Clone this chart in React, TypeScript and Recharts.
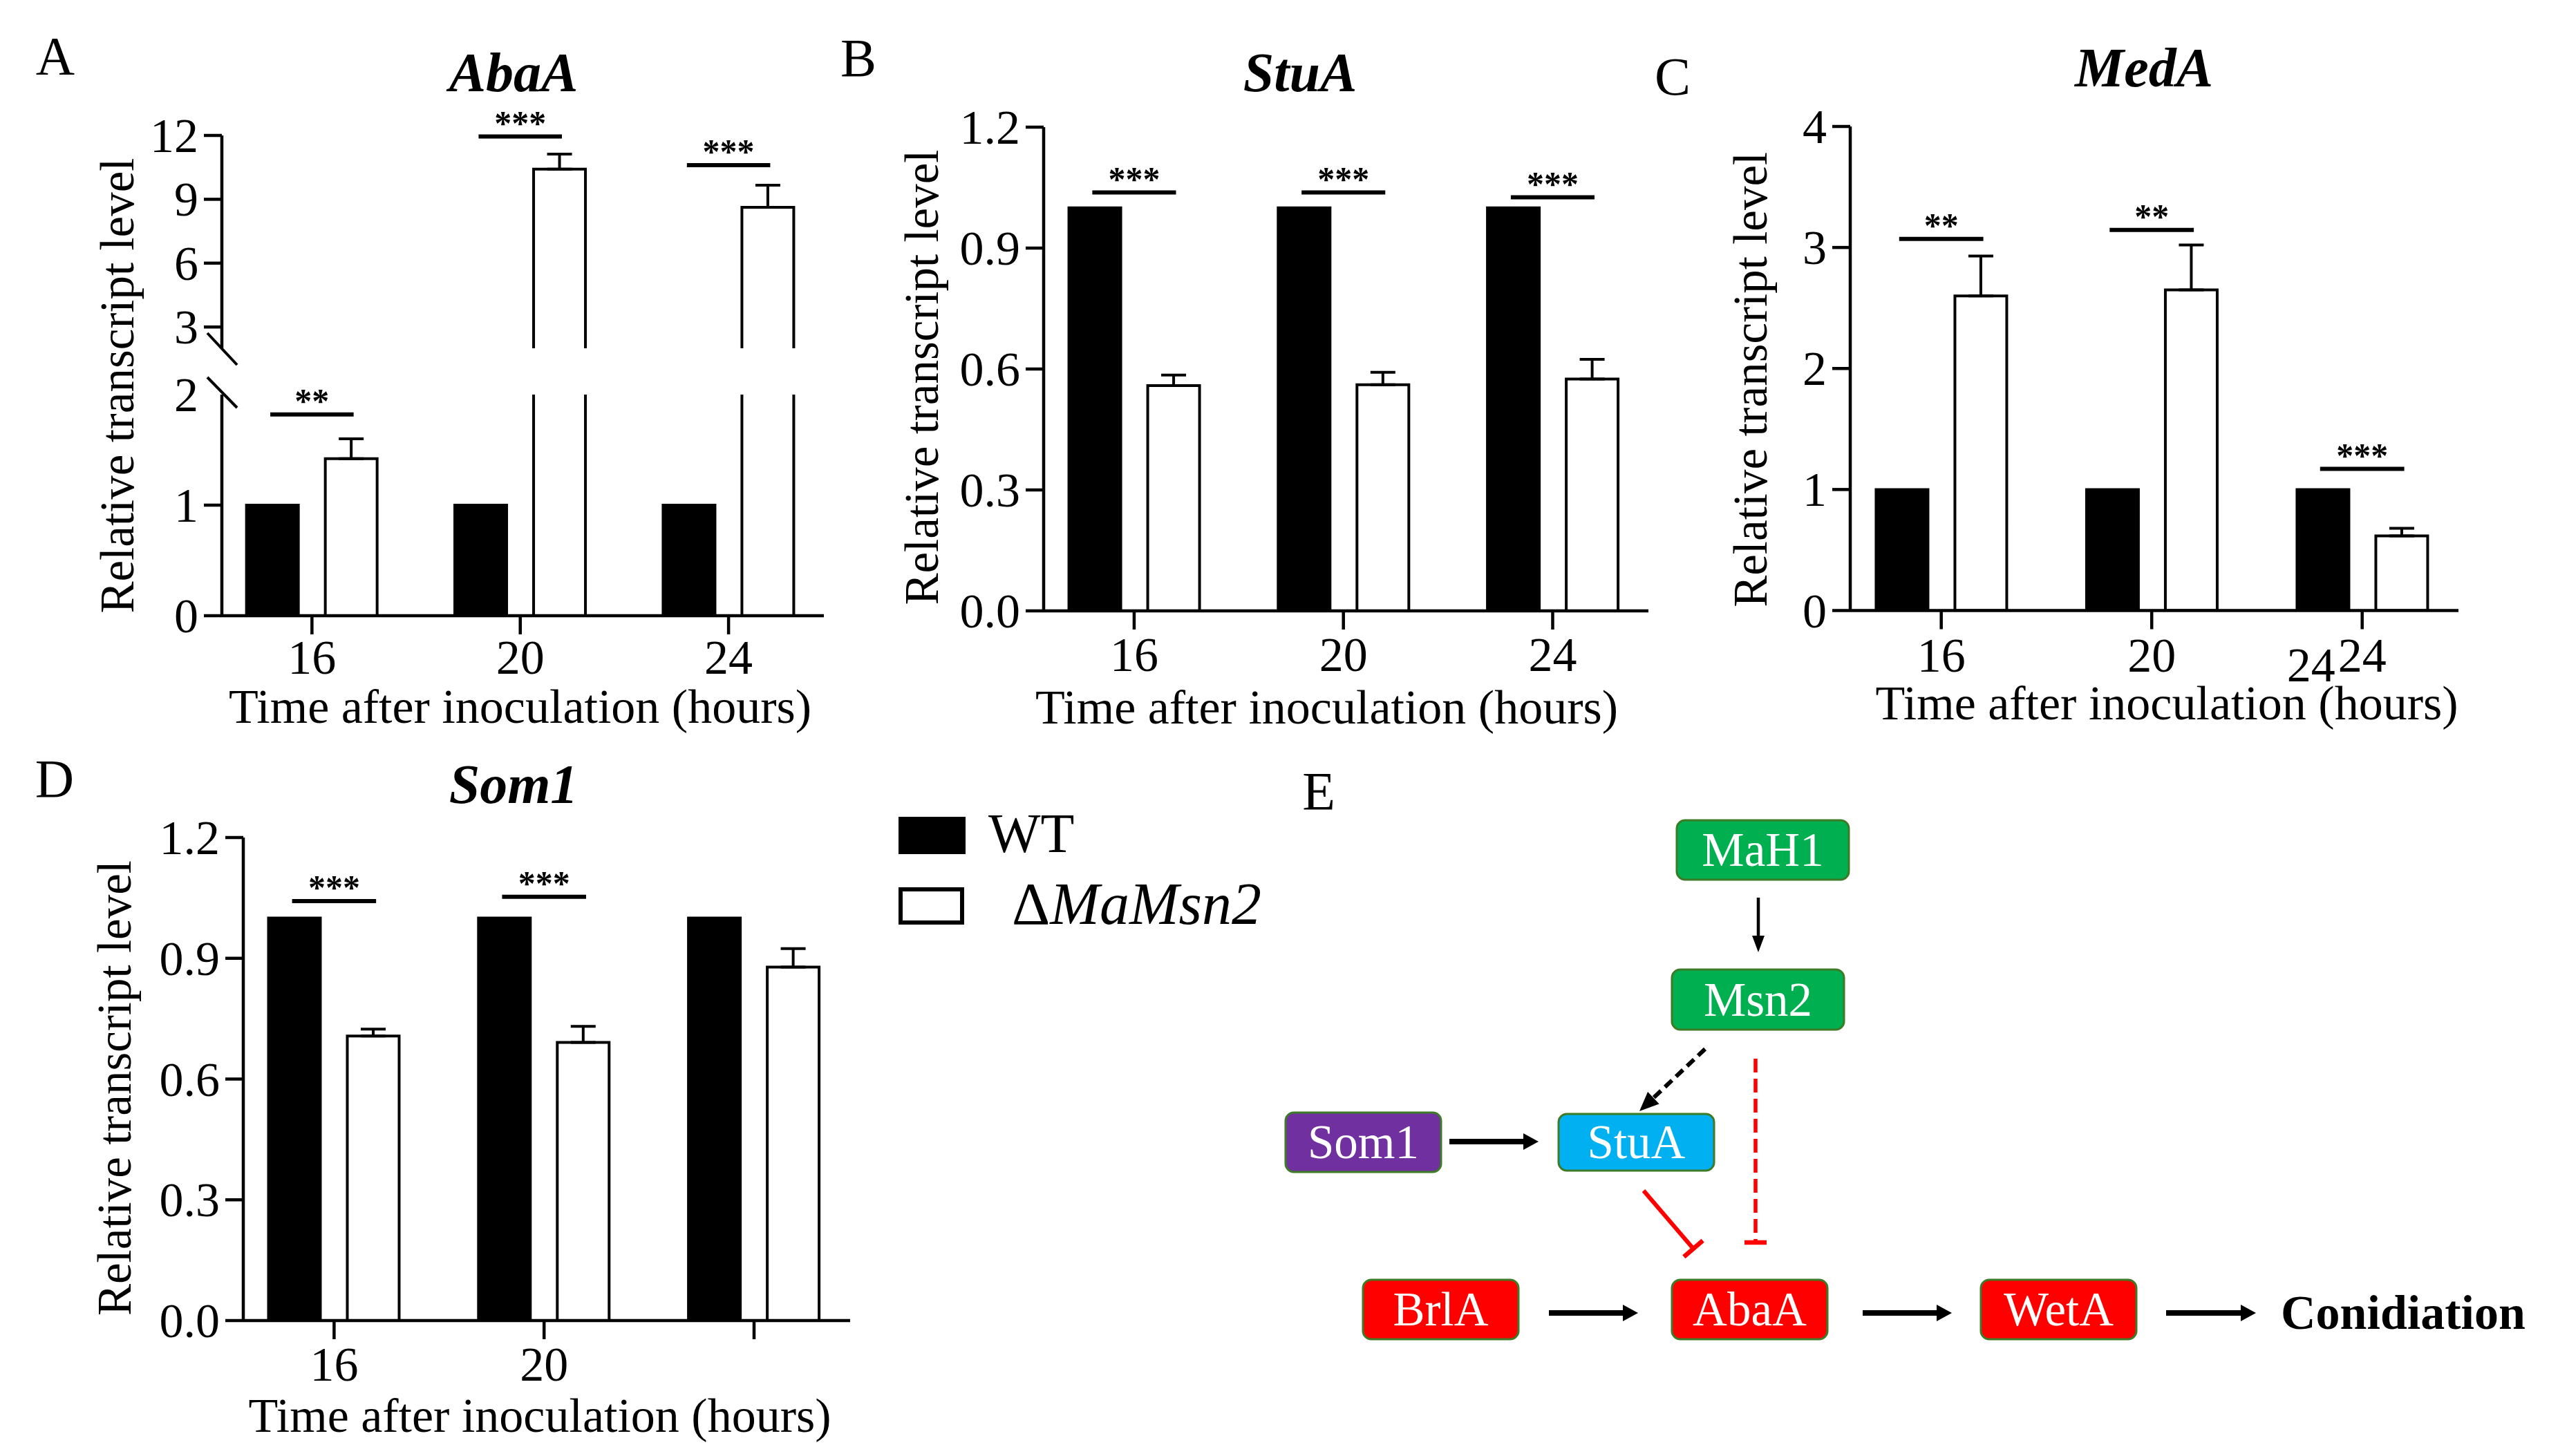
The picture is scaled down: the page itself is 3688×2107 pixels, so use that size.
import React from 'react';
import { BarChart, Bar, XAxis, YAxis, ErrorBar, ReferenceLine, Legend } from 'recharts';

const FONT = '"Liberation Serif", "Times New Roman", Times, serif';

// sampling times (hours after inoculation)
const times = [16, 20, 24];
const timeLabels = ['16', '20', '24'];
const som1TimeLabels = ['16', '20', ''];
const seriesNames = ['WT', 'ΔMaMsn2'];
const seriesFills = ['#000000', '#ffffff'];

// AbaA (broken axis)
const abaAWT = [1, 1, 1];
const abaAMsn2 = [1.42, 10.42, 8.62];
const abaAErr = [0.18, 0.7, 1.04];
const abaAStars = ['**', '***', '***'];
const abaAStarLevel = [1.82, 11.95, 10.6];
const abaALowTicks = [0, 1, 2];
const abaAHighTicks = [3, 6, 9, 12];

// StuA
const stuAWT = [1, 1, 1];
const stuAMsn2 = [0.559, 0.561, 0.575];
const stuAErr = [0.026, 0.031, 0.049];
const stuAStars = ['***', '***', '***'];
const stuAStarLevel = [1.038, 1.038, 1.026];

// MedA
const medAWT = [1, 1, 1];
const medAMsn2 = [2.6, 2.65, 0.617];
const medAErr = [0.33, 0.37, 0.063];
const medAStars = ['**', '**', '***'];
const medAStarLevel = [3.07, 3.145, 1.17];
const medATicks = [0, 1, 2, 3, 4];

// Som1
const som1WT = [1, 1, 1];
const som1Msn2 = [0.707, 0.691, 0.878];
const som1Err = [0.017, 0.04, 0.046];
const som1Stars = ['***', '***', ''];
const som1StarLevel = [1.042, 1.053, 0];
const ratioTicks = [0, 0.3, 0.6, 0.9, 1.2];

// panel E
const pathwayGenes = ['MaH1', 'Msn2', 'Som1', 'StuA', 'BrlA', 'AbaA', 'WetA'];
const pathwayColors = ['#00B050', '#00B050', '#7030A0', '#00B0F0', '#FF0000', '#FF0000', '#FF0000'];
const pathwayOutcome = 'Conidiation';

// layout
const X_DOMAIN: [number, number] = [14.27, 25.83];
const YW = 250;
const MR = 20;
const XH = 190;
const SIG_HALF = 0.8;
const AXIS_W = 4.5;

type Row = { time: number; wt: number | null; msn2: number | null; err: number[] | null };

const makeRows = (
  wt: number[], msn2: number[], err: number[],
  keepWt = true, barMin = -Infinity, errMin = -Infinity, errMax = Infinity
): Row[] =>
  times.map((t, i) => ({
    time: t,
    wt: keepWt ? wt[i] : null,
    msn2: msn2[i] >= barMin ? msn2[i] : null,
    err: msn2[i] >= errMin && msn2[i] <= errMax ? [0, err[i]] : null,
  }));

const makeSig = (stars: string[], levels: number[], lo = -Infinity, hi = Infinity) =>
  times
    .map((t, i) => ({ time: t, level: levels[i], stars: stars[i] }))
    .filter((s) => s.stars && s.level >= lo && s.level <= hi);

const fmt1 = (v: number) => v.toFixed(1);
const fmt0 = (v: number) => String(v);

type Plot = { left: number; right: number; top: number; bottom: number };

type GeneChartProps = {
  rows: Row[];
  plot: Plot;
  marginTop: number;
  rightPad?: number;
  yDomain: [number, number];
  yTicks: number[];
  yFormat: (v: number) => string;
  bareTicks?: number[];
  showX: boolean;
  xLabels?: string[];
  xTickDy?: number;
  xTitle?: { dx: number; dy: number };
  yTitle?: { dist: number; dy: number };
  sig: { time: number; level: number; stars: string }[];
  ghost?: { dx: number; dy: number };
  legend?: { left: number; top: number };
};

function LegendBox({ payload }: any) {
  const items =
    payload && payload.length
      ? payload.map((p: any, i: number) => ({ name: p.value, fill: p.color ?? seriesFills[i] }))
      : seriesNames.map((n, i) => ({ name: n, fill: seriesFills[i] }));
  return (
    <svg width={600} height={180} style={{ display: 'block' }}>
      {items.map((it: any, i: number) => {
        const name: string = it.name;
        const italic = name.startsWith('Δ');
        return (
          <g key={name}>
            {i === 0 ? (
              <rect x={10} y={12} width={97} height={54} fill={it.fill} />
            ) : (
              <rect x={13} y={117} width={89} height={48} fill={it.fill} stroke="#000" strokeWidth={6} />
            )}
            <text
              x={i === 0 ? 140 : 174}
              y={i === 0 ? 63 : 167}
              fontFamily={FONT}
              fontSize={i === 0 ? 80 : 86}
              fill="#000"
            >
              {italic ? (
                <>
                  <tspan>Δ</tspan>
                  <tspan fontStyle="italic">{name.slice(1)}</tspan>
                </>
              ) : (
                name
              )}
            </text>
          </g>
        );
      })}
    </svg>
  );
}

function GeneChart(props: GeneChartProps) {
  const {
    rows, plot, marginTop, rightPad = MR, yDomain, yTicks, yFormat, bareTicks = [], showX,
    xLabels = timeLabels, xTickDy = 62, xTitle, yTitle, sig, ghost, legend,
  } = props;
  const plotW = plot.right - plot.left;
  const plotH = plot.bottom - plot.top;
  const width = YW + plotW + rightPad;
  const height = marginTop + plotH + (showX ? XH : 10);

  const barShape = (key: 'wt' | 'msn2', fill: string) => (p: any) => {
    const v = p.payload ? p.payload[key] : null;
    if (v == null || !p.height) return null;
    const { x, y, width: w, height: h } = p;
    const openTop = v > yDomain[1];
    const openBottom = yDomain[0] > 0;
    let d = `M${x},${y + h} L${x},${y}`;
    d += openTop ? ` M${x + w},${y}` : ` L${x + w},${y}`;
    d += ` L${x + w},${y + h}`;
    if (!openBottom) d += ` L${x},${y + h}`;
    return (
      <g>
        <rect x={x} y={y} width={w} height={h} fill={fill} />
        <path d={d} fill="none" stroke="#000" strokeWidth={4} strokeLinejoin="miter" />
      </g>
    );
  };

  const yTick = (p: any) => {
    const v = p.payload?.value;
    return (
      <g>
        {!bareTicks.includes(v) && (
          <line x1={p.x - 26} y1={p.y} x2={p.x} y2={p.y} stroke="#000" strokeWidth={AXIS_W} />
        )}
        <text x={p.x - 34} y={p.y + 24} textAnchor="end" fontFamily={FONT} fontSize={70} fill="#000">
          {yFormat(v)}
        </text>
      </g>
    );
  };

  const xTick = (p: any) => {
    const v = p.payload?.value;
    const i = times.indexOf(v);
    const label = xLabels[i] ?? '';
    return (
      <g>
        <line x1={p.x} y1={p.y} x2={p.x} y2={p.y + 27} stroke="#000" strokeWidth={AXIS_W} />
        {label && (
          <text x={p.x} y={p.y + xTickDy + 24} textAnchor="middle" fontFamily={FONT} fontSize={70} fill="#000">
            {label}
          </text>
        )}
        {ghost && label && i === times.length - 1 && (
          <text
            x={p.x + ghost.dx}
            y={p.y + xTickDy + 24 + ghost.dy}
            textAnchor="middle"
            fontFamily={FONT}
            fontSize={70}
            fill="#000"
          >
            {label}
          </text>
        )}
      </g>
    );
  };

  const yTitleContent = () => {
    if (!yTitle) return null;
    const cx = YW - yTitle.dist + 23;
    const cy = marginTop + plotH / 2 + yTitle.dy;
    return (
      <text
        x={cx}
        y={cy}
        transform={`rotate(-90 ${cx} ${cy})`}
        textAnchor="middle"
        fontFamily={FONT}
        fontSize={69}
        fill="#000"
      >
        Relative transcript level
      </text>
    );
  };

  const xTitleContent = () => {
    if (!xTitle) return null;
    return (
      <text
        x={YW + plotW / 2 + xTitle.dx}
        y={marginTop + plotH + xTitle.dy + 18}
        textAnchor="middle"
        fontFamily={FONT}
        fontSize={70}
        fill="#000"
      >
        Time after inoculation (hours)
      </text>
    );
  };

  return (
    <div style={{ position: 'absolute', left: plot.left - YW, top: plot.top - marginTop }}>
      <BarChart
        width={width}
        height={height}
        data={rows}
        margin={{ top: marginTop, right: rightPad, bottom: showX ? 0 : 10, left: 0 }}
        barSize={75}
        barGap={39}
      >
        <XAxis
          dataKey="time"
          type="number"
          domain={X_DOMAIN}
          ticks={times}
          interval={0}
          allowDataOverflow
          hide={!showX}
          height={XH}
          tickSize={0}
          tickMargin={0}
          tickLine={false}
          tick={xTick}
          axisLine={{ stroke: '#000', strokeWidth: AXIS_W }}
          label={{ content: xTitleContent }}
        />
        <YAxis
          type="number"
          domain={yDomain}
          ticks={yTicks}
          interval={0}
          allowDataOverflow
          width={YW}
          tickSize={0}
          tickMargin={0}
          tickLine={false}
          tick={yTick}
          axisLine={{ stroke: '#000', strokeWidth: AXIS_W }}
          label={{ content: yTitleContent }}
        />
        <Bar
          dataKey="wt"
          name={seriesNames[0]}
          fill={seriesFills[0]}
          stroke="#000"
          isAnimationActive={false}
          shape={barShape('wt', seriesFills[0])}
        />
        <Bar
          dataKey="msn2"
          name={seriesNames[1]}
          fill={seriesFills[1]}
          stroke="#000"
          isAnimationActive={false}
          shape={barShape('msn2', seriesFills[1])}
        >
          <ErrorBar dataKey="err" width={18} stroke="#000" strokeWidth={4} direction="y" isAnimationActive={false} />
        </Bar>
        {sig.map((s) => (
          <ReferenceLine
            key={`${s.time}-${s.level}`}
            segment={[
              { x: s.time - SIG_HALF, y: s.level },
              { x: s.time + SIG_HALF, y: s.level },
            ]}
            stroke="#000"
            strokeWidth={6}
            ifOverflow="visible"
            label={{
              value: s.stars,
              position: 'top',
              offset: 3,
              fill: '#000',
              fontSize: 50,
              fontWeight: 700,
              fontFamily: FONT,
            }}
          />
        ))}
        {legend && (
          <Legend
            layout="vertical"
            align="center"
            verticalAlign="middle"
            content={LegendBox}
            wrapperStyle={{ position: 'absolute', left: legend.left, top: legend.top, width: 600, height: 180 }}
          />
        )}
      </BarChart>
    </div>
  );
}

function Arrow({ x1, y1, x2, y2, w, head, hw, color = '#000', dash }: any) {
  const dx = x2 - x1;
  const dy = y2 - y1;
  const len = Math.hypot(dx, dy);
  const ux = dx / len;
  const uy = dy / len;
  const bx = x2 - ux * head;
  const by = y2 - uy * head;
  const px = -uy;
  const py = ux;
  return (
    <g>
      <line x1={x1} y1={y1} x2={bx + ux * 2} y2={by + uy * 2} stroke={color} strokeWidth={w} strokeDasharray={dash} />
      <polygon
        points={`${x2},${y2} ${bx + (px * hw) / 2},${by + (py * hw) / 2} ${bx - (px * hw) / 2},${by - (py * hw) / 2}`}
        fill={color}
      />
    </g>
  );
}

function Blunt({ x1, y1, x2, y2, w, bar, color = '#FF0000', dash }: any) {
  const dx = x2 - x1;
  const dy = y2 - y1;
  const len = Math.hypot(dx, dy);
  const px = -dy / len;
  const py = dx / len;
  return (
    <g>
      <line x1={x1} y1={y1} x2={x2} y2={y2} stroke={color} strokeWidth={w} strokeDasharray={dash} />
      <line
        x1={x2 - px * bar}
        y1={y2 - py * bar}
        x2={x2 + px * bar}
        y2={y2 + py * bar}
        stroke={color}
        strokeWidth={6.5}
      />
    </g>
  );
}

// node boxes for panel E: x, y, w, h
const nodeBoxes = [
  [2426, 1187, 249, 86],
  [2419, 1403, 249, 87],
  [1860, 1610, 225, 86],
  [2255, 1612, 225, 82],
  [1972, 1852, 225, 86],
  [2419, 1852, 225, 86],
  [2866, 1852, 225, 86],
];

function Overlay() {
  const letter = { fontFamily: FONT, fontSize: 78, fill: '#000', textAnchor: 'middle' as const };
  const title = {
    fontFamily: FONT,
    fontSize: 80,
    fontWeight: 700,
    fontStyle: 'italic' as const,
    fill: '#000',
    textAnchor: 'middle' as const,
  };
  return (
    <svg
      width={3688}
      height={2107}
      style={{ position: 'absolute', left: 0, top: 0, pointerEvents: 'none' }}
    >
      <text x={80} y={107} {...letter}>A</text>
      <text x={1242} y={110} {...letter}>B</text>
      <text x={2420} y={137} {...letter}>C</text>
      <text x={79} y={1153} {...letter}>D</text>
      <text x={1908} y={1171} {...letter}>E</text>

      <text x={743} y={132} {...title}>AbaA</text>
      <text x={1881} y={132} {...title}>StuA</text>
      <text x={3102} y={125} {...title}>MedA</text>
      <text x={743} y={1162} {...title}>Som1</text>

      {/* axis break marks */}
      <line x1={300} y1={482} x2={343} y2={528} stroke="#000" strokeWidth={4} />
      <line x1={300} y1={546} x2={343} y2={590} stroke="#000" strokeWidth={4} />

      {/* panel E */}
      {pathwayGenes.map((g, i) => {
        const [x, y, w, h] = nodeBoxes[i];
        return (
          <g key={g}>
            <rect x={x} y={y} width={w} height={h} rx={12} fill={pathwayColors[i]} stroke="#3E7B27" strokeWidth={3} />
            <text
              x={x + w / 2}
              y={y + h / 2 + 23}
              textAnchor="middle"
              fontFamily={FONT}
              fontSize={69}
              fill="#fff"
            >
              {g}
            </text>
          </g>
        );
      })}
      <Arrow x1={2544} y1={1299} x2={2544} y2={1378} w={4.5} head={24} hw={18} />
      <Arrow x1={2097} y1={1652} x2={2226} y2={1652} w={8} head={22} hw={24} />
      <Arrow x1={2467} y1={1518} x2={2372} y2={1608} w={6} head={28} hw={24} dash="14 8" />
      <Arrow x1={2241} y1={1900} x2={2370} y2={1900} w={8} head={22} hw={24} />
      <Arrow x1={2695} y1={1900} x2={2824} y2={1900} w={8} head={22} hw={24} />
      <Arrow x1={3134} y1={1900} x2={3264} y2={1900} w={8} head={22} hw={24} />
      <Blunt x1={2378} y1={1723} x2={2450} y2={1807} w={6} bar={18} />
      <Blunt x1={2540} y1={1532} x2={2540} y2={1798} w={5.5} bar={16} dash="20 9" />
      <text x={3300} y={1923} fontFamily={FONT} fontSize={70} fontWeight={700} fill="#000">
        {pathwayOutcome}
      </text>
    </svg>
  );
}

export default function App() {
  return (
    <div
      style={{
        position: 'absolute',
        left: 0,
        top: 0,
        width: 3688,
        height: 2107,
        overflow: 'hidden',
        background: '#fff',
        fontFamily: FONT,
      }}
    >
      {/* A upper segment */}
      <GeneChart
        rows={makeRows(abaAWT, abaAMsn2, abaAErr, false, 2, 3)}
        plot={{ left: 321, right: 1192, top: 196, bottom: 504 }}
        marginTop={150}
        yDomain={[2, 12]}
        yTicks={abaAHighTicks}
        yFormat={fmt0}
        showX={false}
        sig={makeSig(abaAStars, abaAStarLevel, 2, 12)}
      />
      {/* A lower segment */}
      <GeneChart
        rows={makeRows(abaAWT, abaAMsn2, abaAErr, true, -Infinity, -Infinity, 2)}
        plot={{ left: 321, right: 1192, top: 571, bottom: 891 }}
        marginTop={371}
        yDomain={[0, 2]}
        yTicks={abaALowTicks}
        yFormat={fmt0}
        bareTicks={[2]}
        showX
        xTickDy={60}
        xTitle={{ dx: -4, dy: 137 }}
        yTitle={{ dist: 151, dy: -173 }}
        sig={makeSig(abaAStars, abaAStarLevel, 0, 2)}
      />
      <GeneChart
        rows={makeRows(stuAWT, stuAMsn2, stuAErr)}
        plot={{ left: 1510, right: 2385, top: 184, bottom: 884 }}
        marginTop={150}
        yDomain={[0, 1.2]}
        yTicks={ratioTicks}
        yFormat={fmt1}
        showX
        xTickDy={63}
        xTitle={{ dx: -28, dy: 145 }}
        yTitle={{ dist: 176, dy: 12 }}
        sig={makeSig(stuAStars, stuAStarLevel)}
      />
      <GeneChart
        rows={makeRows(medAWT, medAMsn2, medAErr)}
        plot={{ left: 2677, right: 3557, top: 182.5, bottom: 883 }}
        marginTop={150}
        yDomain={[0, 4]}
        yTicks={medATicks}
        yFormat={fmt0}
        showX
        xTickDy={64}
        xTitle={{ dx: 18, dy: 139 }}
        yTitle={{ dist: 144, dy: 16 }}
        sig={makeSig(medAStars, medAStarLevel)}
        ghost={{ dx: -74, dy: 14 }}
      />
      <GeneChart
        rows={makeRows(som1WT, som1Msn2, som1Err)}
        plot={{ left: 352, right: 1230, top: 1212, bottom: 1911 }}
        marginTop={100}
        rightPad={700}
        yDomain={[0, 1.2]}
        yTicks={ratioTicks}
        yFormat={fmt1}
        showX
        xLabels={som1TimeLabels}
        xTickDy={63}
        xTitle={{ dx: -10, dy: 143 }}
        yTitle={{ dist: 186, dy: 13 }}
        sig={makeSig(som1Stars, som1StarLevel)}
        legend={{ left: 1290 - (352 - YW), top: 1170 - (1212 - 100) }}
      />
      <Overlay />
    </div>
  );
}
